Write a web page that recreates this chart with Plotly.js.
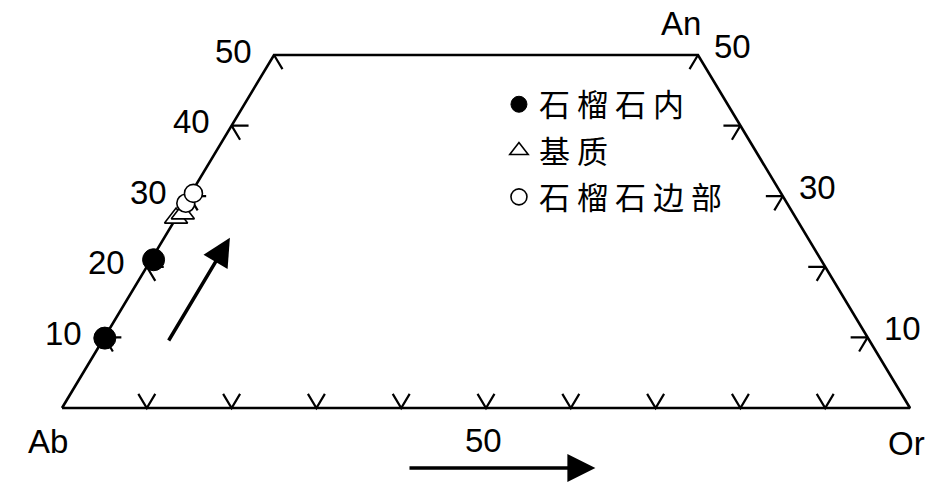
<!DOCTYPE html>
<html>
<head>
<meta charset="utf-8">
<script src="https://cdn.plot.ly/plotly-3.0.1.min.js"></script>
<style>
html,body{margin:0;padding:0;background:#fff;}
#chart{width:945px;height:485px;}
.legend .legendtext{letter-spacing:7px;}
.legend .scrollbox{clip-path:none !important;}
</style>
</head>
<body>
<div id="chart"></div>
<script>
// ---- data (An %, Or %; Ab = 100 - An - Or) ----
const seriesNames = ['石榴石内', '基质', '石榴石边部'];
const inclusionAn = [9.9, 21.0];
const inclusionOr = [0.1, 0.3];
const matrixAn = [26.9, 27.5];
const matrixOr = [0.0, 0.5];
const rimAn = [29.0, 30.4];
const rimOr = [0.1, 0.3];

const cornerLabels = ['Ab', 'Or', 'An'];
const anMax = 50;
const leftTickAn = [10, 20, 30, 40, 50];
const leftTickLabels = ['10', '20', '30', '40', '50'];
const rightTickAn = [10, 20, 30, 40, 50];
const rightTickLabelAn = [10, 30, 50];
const baseTickOr = [10, 20, 30, 40, 50, 60, 70, 80, 90];
const baseTickLabelOr = [50];
// trend arrows: [An, Or] of tail and head
const trendArrowTail = [[9.35, 7.8], [-8.5, 45.05]];
const trendArrowHead = [[24.1, 7.75], [-8.5, 67.15]];

// ---- helpers ----
function tx(an, or) { return or + an / 2; }
function ty(an) { return an; }

const T = 2; // tick arm length, composition units

// outline
const outAn = [0, 0, anMax, anMax, 0];
const outOr = [0, 100, 100 - anMax, 0, 0];
const outline = {
  x: outAn.map((a, i) => tx(a, outOr[i])), y: outAn.map(ty),
  mode: 'lines', line: {color: '#000', width: 2.6}, hoverinfo: 'skip', showlegend: false
};

// tick chevrons
const tkx = [], tky = [];
function seg(pts) { pts.forEach(p => { tkx.push(tx(p[0], p[1])); tky.push(ty(p[0])); }); tkx.push(null); tky.push(null); }
leftTickAn.forEach(a => seg([[a, T], [a, 0], [a - T, T]]));
rightTickAn.forEach(a => seg([[a, 100 - a - T], [a, 100 - a], [a - T, 100 - a]]));
baseTickOr.forEach(o => seg([[T, o - T], [0, o], [T, o]]));
const ticks = {x: tkx, y: tky, mode: 'lines', line: {color: '#000', width: 2.2}, hoverinfo: 'skip', showlegend: false};

function pts(an, or, name, marker, rank) {
  return {
    x: an.map((a, i) => tx(a, or[i])), y: an.map(ty), name: name,
    mode: 'markers', marker: marker, cliponaxis: false, legendrank: rank, legendgroup: 'g' + rank
  };
}
const trInc = pts(inclusionAn, inclusionOr, seriesNames[0],
  {symbol: 'circle', size: 22, color: '#000', line: {color: '#000', width: 1}}, 1);
const trMat = pts(matrixAn, matrixOr, seriesNames[1],
  {symbol: 'triangle-up', size: 20, color: '#fff', line: {color: '#000', width: 1.6}}, 2);
const trRim = pts(rimAn, rimOr, seriesNames[2],
  {symbol: 'circle', size: 18, color: '#fff', line: {color: '#000', width: 1.6}}, 3);

// annotations
const lblFont = {family: 'Liberation Sans, Arial, sans-serif', size: 33, color: '#000'};
const ann = [];
leftTickAn.forEach((a, i) => ann.push({
  x: tx(a, 0), y: ty(a), text: leftTickLabels[i], showarrow: false,
  xanchor: 'right', yanchor: 'middle', xshift: -20, yshift: 4, font: lblFont
}));
rightTickLabelAn.forEach(a => ann.push({
  x: tx(a, 100 - a), y: ty(a), text: String(a), showarrow: false,
  xanchor: 'left', yanchor: 'middle', xshift: 14, yshift: 9, font: lblFont
}));
baseTickLabelOr.forEach(o => ann.push({
  x: tx(0, o), y: 0, text: String(o), showarrow: false,
  xanchor: 'center', yanchor: 'middle', xshift: -3, yshift: -32, font: lblFont
}));
ann.push({x: tx(0, 0), y: 0, text: cornerLabels[0], showarrow: false, xanchor: 'center', yanchor: 'middle', xshift: -14, yshift: -33, font: lblFont});
ann.push({x: tx(0, 100), y: 0, text: cornerLabels[1], showarrow: false, xanchor: 'center', yanchor: 'middle', xshift: -4, yshift: -35, font: lblFont});
ann.push({x: tx(anMax, 100 - anMax), y: ty(anMax), text: cornerLabels[2], showarrow: false, xanchor: 'center', yanchor: 'middle', xshift: -17, yshift: 32, font: lblFont});
trendArrowTail.forEach((tl, i) => {
  const hd = trendArrowHead[i];
  ann.push({
    x: tx(hd[0], hd[1]), y: ty(hd[0]), ax: tx(tl[0], tl[1]), ay: ty(tl[0]),
    axref: 'x', ayref: 'y', xref: 'x', yref: 'y', text: '', showarrow: true,
    arrowhead: 2, arrowsize: 1.6, arrowwidth: 3.5, arrowcolor: '#000', standoff: 0
  });
});

const layout = {
  width: 945, height: 485,
  margin: {l: 0, r: 0, t: 0, b: 0},
  paper_bgcolor: '#fff', plot_bgcolor: '#fff',
  xaxis: {range: [-62 / 8.48, 883 / 8.48], visible: false, fixedrange: true},
  yaxis: {range: [-77 / 7.06, 408 / 7.06], visible: false, fixedrange: true},
  showlegend: true,
  legend: {
    x: 0.528, y: 0.84, xanchor: 'left', yanchor: 'top',
    bgcolor: 'rgba(0,0,0,0)', traceorder: 'grouped', tracegroupgap: 3,
    font: {family: 'Noto Sans CJK SC, sans-serif', size: 31, color: '#000'},
    itemwidth: 30
  },
  annotations: ann
};

Plotly.newPlot('chart', [outline, ticks, trInc, trMat, trRim], layout, {staticPlot: true, displayModeBar: false});
</script>
</body>
</html>
